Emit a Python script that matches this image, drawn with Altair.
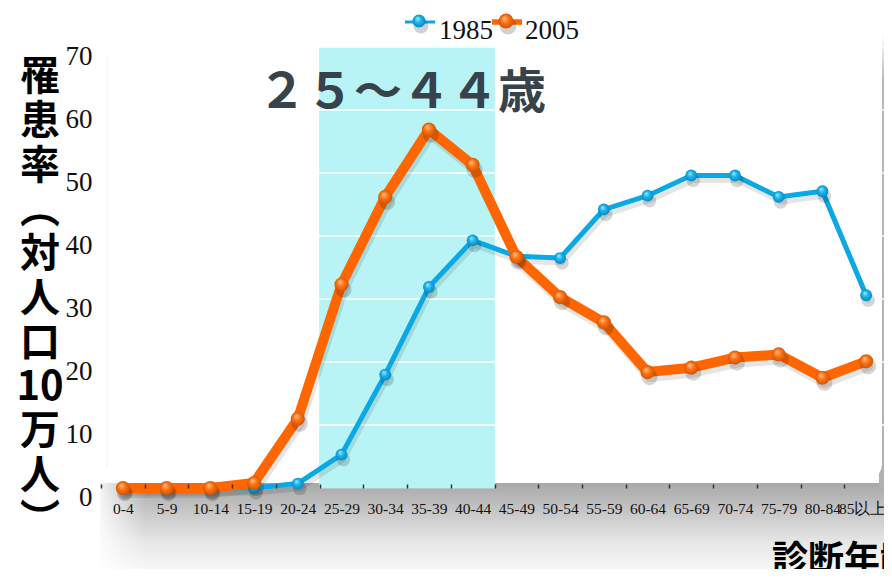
import altair as alt
import pandas as pd

# ---------------- data ----------------
ages = ["0-4", "5-9", "10-14", "15-19", "20-24", "25-29", "30-34", "35-39", "40-44",
        "45-49", "50-54", "55-59", "60-64", "65-69", "70-74", "75-79", "80-84", "85以上"]
rate_1985 = [0, 0, 0, 0, 0.7, 5.3, 18.0, 31.9, 39.3, 36.8, 36.5, 44.2, 46.4, 49.6, 49.6, 46.2, 47.1, 30.6]
rate_2005 = [0, 0, 0, 0.8, 11.0, 32.3, 46.2, 56.9, 51.3, 36.7, 30.3, 26.3, 18.4, 19.1, 20.7, 21.2, 17.5, 20.1]
series = ["1985", "2005"]
series_colors = ["#0aa8e4", "#ff6600"]
highlight_ages = ["25-29", "30-34", "35-39", "40-44"]
y_ticks = [0, 10, 20, 30, 40, 50, 60, 70]
grid_values = [10, 20, 30, 40, 50, 60, 70]
annotation = "２５～４４歳"
y_title_lines = ["罹", "患", "率", "︵", "対", "人", "口", "10", "万", "人", "︶"]
x_title = "診断年齢"

df = pd.DataFrame({
    "age": ages * 2,
    "rate": rate_1985 + rate_2005,
    "year": ["1985"] * len(ages) + ["2005"] * len(ages),
})
hl_df = pd.DataFrame({"age": highlight_ages})
grid_df = pd.DataFrame({"v": grid_values})
one = pd.DataFrame({"k": [0]})
legend_df = pd.DataFrame({"year": series})

W, H = 787, 441

x_scale = alt.Scale(type="band", domain=ages, paddingInner=0, paddingOuter=0)
y_scale = alt.Scale(domain=[0, 70], nice=False, zero=True)
color_scale = alt.Scale(domain=series, range=series_colors)

x_axis = alt.Axis(title=None, labelAngle=0, labelFont="Liberation Serif", labelFontSize=15.5,
                  labelColor="#111111", domain=False, ticks=True, tickBand="extent",
                  tickColor="#333333", tickSize=4, tickWidth=1.5, offset=-4,
                  labelPadding=13, grid=False, zindex=1,
                  labelOffset={"expr": "datum.value === '85以上' ? -4 : 0"})
y_axis = alt.Axis(title=None, values=y_ticks, labelFont="Liberation Serif", labelFontSize=27,
                  labelColor="#111111", domain=False, ticks=False, grid=False,
                  labelPadding=9, labelOffset=9)

x_enc = alt.X("age:N", scale=x_scale, sort=ages, axis=x_axis)
y_enc = alt.Y("rate:Q", scale=y_scale, axis=y_axis)


def lin(stops, x1=0, y1=0, x2=0, y2=1):
    return alt.LinearGradient(gradient="linear", x1=x1, y1=y1, x2=x2, y2=y2,
                              stops=[alt.GradientStop(offset=o, color=c) for o, c in stops])


def rad(stops):
    return alt.RadialGradient(gradient="radial", x1=0.38, y1=0.3, r1=0, x2=0.5, y2=0.5, r2=0.55,
                              stops=[alt.GradientStop(offset=o, color=c) for o, c in stops])


# ---------------- background decoration ----------------
grey_band = alt.Chart(one).mark_rect(
    fill=lin([(0, "#a8a8a8"), (0.3, "#c4c4c4"), (0.7, "#e8e8e8"), (1, "#f7f7f7")])
).encode(x=alt.value(-1), x2=alt.value(791), y=alt.value(436), y2=alt.value(523))

left_fade = alt.Chart(one).mark_rect(
    fill=lin([(0, "rgba(255,255,255,1)"), (1, "rgba(255,255,255,0)")], x1=0, y1=0, x2=1, y2=0)
).encode(x=alt.value(-8), x2=alt.value(45), y=alt.value(430), y2=alt.value(523))

right_strip = alt.Chart(one).mark_rect(
    fill=lin([(0, "#ffffff"), (0.1, "#b8b8b8"), (1, "#b2b2b2")])
).encode(x=alt.value(778), x2=alt.value(791), y=alt.value(-12), y2=alt.value(440))

card = alt.Chart(one).mark_rect(fill="white", cornerRadius=20).encode(
    x=alt.value(5), x2=alt.value(781), y=alt.value(-40), y2=alt.value(436))

card_edge = alt.Chart(one).mark_rule(color="#f0f0f0", strokeWidth=1).encode(
    x=alt.value(6), y=alt.value(10), y2=alt.value(420))

highlight = alt.Chart(hl_df).mark_rect(color="#b8f3f5", stroke="#b8f3f5", strokeWidth=0.8).encode(
    x=x_enc,
    y=alt.Y(datum=70, type="quantitative", scale=y_scale, axis=y_axis),
    y2=alt.Y2(datum=0),
)

grid = alt.Chart(grid_df).mark_rule(color="white", strokeWidth=1.5).encode(
    y=alt.Y("v:Q", scale=y_scale, axis=y_axis))

# ---------------- data marks ----------------
sw_scale = alt.Scale(domain=series, range=[4, 8])

line_shadow = alt.Chart(df).mark_line(color="black", opacity=0.1, strokeJoin="round",
                                      strokeCap="round", xOffset=2, yOffset=5).encode(
    x=x_enc, y=y_enc, detail="year:N",
    strokeWidth=alt.StrokeWidth("year:N", scale=alt.Scale(domain=series, range=[5, 10]), legend=None))

lines = alt.Chart(df).mark_line(strokeJoin="round", strokeCap="round").encode(
    x=x_enc, y=y_enc,
    color=alt.Color("year:N", scale=color_scale, legend=None),
    strokeWidth=alt.StrokeWidth("year:N", scale=sw_scale, legend=None),
)

blue_grad = rad([(0, "#a8ecff"), (0.45, "#19b4ee"), (1, "#0585bd")])
orange_grad = rad([(0, "#ffc58c"), (0.45, "#ff7414"), (1, "#cc4e00")])


def point_layers(year, grad, size):
    base = alt.Chart(df).transform_filter(alt.datum.year == year)
    shadow = base.mark_circle(color="black", opacity=0.16, size=size * 1.3, xOffset=2, yOffset=5).encode(
        x=x_enc, y=y_enc)
    pts = base.mark_circle(fill=grad, opacity=1, size=size).encode(x=x_enc, y=y_enc)
    return [shadow, pts]


pts_1985 = point_layers("1985", blue_grad, 140)
pts_2005 = point_layers("2005", orange_grad, 200)

# ---------------- legend (manual) ----------------
def legend_entry(year, x0, x1, xdot, xtext, width, grad, size):
    base = alt.Chart(legend_df).transform_filter(alt.datum.year == year)
    rule = base.mark_rule(strokeWidth=width).encode(
        x=alt.value(x0), x2=alt.value(x1), y=alt.value(-25),
        color=alt.Color("year:N", scale=color_scale, legend=None))
    shadow = base.mark_circle(color="black", opacity=0.18, size=size * 1.3).encode(
        x=alt.value(xdot + 2), y=alt.value(-21))
    dot = base.mark_circle(fill=grad, opacity=1, size=size).encode(x=alt.value(xdot), y=alt.value(-26))
    txt = base.mark_text(align="left", baseline="middle", font="Liberation Serif", fontSize=27,
                         color="#111111").encode(x=alt.value(xtext), y=alt.value(-16), text="year:N")
    return [rule, shadow, dot, txt]


leg = legend_entry("1985", 304, 334, 318, 338, 3, blue_grad, 170) + \
      legend_entry("2005", 391, 421, 405, 424, 5.5, orange_grad, 220)

# ---------------- texts ----------------
ann = alt.Chart(one).mark_text(align="left", baseline="middle", font="Noto Sans CJK JP",
                               fontWeight="bold", fontSize=48, color="#37424a").encode(
    x=alt.value(157), y=alt.value(47), text=alt.value(annotation))

y_title = alt.Chart(one).mark_text(align="center", baseline="middle", font="Noto Sans CJK JP",
                                   fontWeight="bold", fontSize=40, lineHeight=44.3, color="black").encode(
    x=alt.value(-61), y=alt.value(31), text=alt.value(y_title_lines))

x_title_mark = alt.Chart(one).mark_text(align="left", baseline="middle", font="Noto Sans CJK JP",
                                        fontWeight="bold", fontSize=36, color="black").encode(
    x=alt.value(671), y=alt.value(514), text=alt.value(x_title))

chart = alt.layer(
    grey_band, left_fade, right_strip, card, card_edge, highlight, grid,
    line_shadow, lines, *pts_1985, *pts_2005, *leg, ann, y_title, x_title_mark,
).properties(
    width=W, height=H,
    autosize=alt.AutoSizeParams(type="none"),
    padding={"left": 93, "top": 39, "right": -4, "bottom": 81},
    background="white",
).configure_view(stroke=None)

chart.save("out.html", embed_options={"renderer": "svg", "actions": False})
